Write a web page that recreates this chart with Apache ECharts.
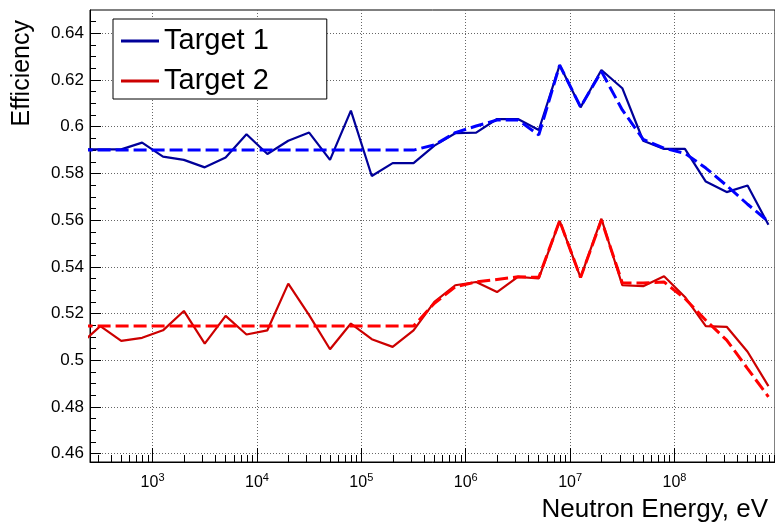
<!DOCTYPE html>
<html>
<head>
<meta charset="utf-8">
<title>Efficiency vs Neutron Energy</title>
<script src="https://cdn.jsdelivr.net/npm/echarts@6/dist/echarts.min.js"></script>
<style>
  html, body { margin: 0; padding: 0; background: #fff; }
  #main { width: 775px; height: 524px; }
</style>
</head>
<body>
<div id="main"></div>
<script>
// neutron energy bin centres, eV
var energies = [200, 316, 501, 794, 1259, 1995, 3162, 5012, 7943,
    12589, 19953, 31623, 50119, 79433, 125893, 199526, 316228, 501187, 794328,
    1.259e6, 1.995e6, 3.162e6, 5.012e6, 7.943e6, 1.259e7, 1.995e7, 3.162e7, 5.012e7, 7.943e7,
    1.259e8, 1.995e8, 3.162e8, 5.012e8, 7.943e8];

var target1 = [0.5903, 0.5903, 0.5903, 0.5932, 0.5872, 0.5858, 0.5826, 0.5868, 0.5968,
    0.5883, 0.5940, 0.5975, 0.5858, 0.6069, 0.5789, 0.5844, 0.5844, 0.5919, 0.5972,
    0.5975, 0.6033, 0.6033, 0.5986, 0.6264, 0.6083, 0.6243, 0.6165, 0.5940, 0.5905,
    0.5905, 0.5765, 0.5720, 0.5748, 0.5580];
var target1Fit = [0.5900, 0.5900, 0.5900, 0.5900, 0.5900, 0.5900, 0.5900, 0.5900, 0.5900,
    0.5900, 0.5900, 0.5900, 0.5900, 0.5900, 0.5900, 0.5900, 0.5900, 0.5922, 0.5975,
    0.6003, 0.6029, 0.6029, 0.5965, 0.6264, 0.6085, 0.6237, 0.6072, 0.5946, 0.5908,
    0.5886, 0.5823, 0.5748, 0.5668, 0.5594];

var target2 = [0.5066, 0.5146, 0.5083, 0.5096, 0.5128, 0.5211, 0.5071, 0.5190, 0.5110,
    0.5128, 0.5328, 0.5193, 0.5047, 0.5157, 0.5090, 0.5057, 0.5128, 0.5250, 0.5321,
    0.5335, 0.5292, 0.5357, 0.5350, 0.5597, 0.5354, 0.5606, 0.5321, 0.5317, 0.5360,
    0.5271, 0.5146, 0.5143, 0.5036, 0.4889];
var target2Fit = [0.5146, 0.5146, 0.5146, 0.5146, 0.5146, 0.5146, 0.5146, 0.5146, 0.5146,
    0.5146, 0.5146, 0.5146, 0.5146, 0.5146, 0.5146, 0.5146, 0.5146, 0.5244, 0.5314,
    0.5335, 0.5346, 0.5357, 0.5355, 0.5597, 0.5354, 0.5600, 0.5331, 0.5331, 0.5335,
    0.5264, 0.5171, 0.5086, 0.4964, 0.4843];

var xTicks = [1e3, 1e4, 1e5, 1e6, 1e7, 1e8];
var yTicks = [0.46, 0.48, 0.5, 0.52, 0.54, 0.56, 0.58, 0.6, 0.62, 0.64];

var xMin = 251.6, xMax = 9.18e8;
var yMin = 0.4564, yMax = 0.65;

// minor ticks: 2..9 in each decade, and every 0.005 on y
var xMinorTicks = [];
[100, 1e3, 1e4, 1e5, 1e6, 1e7, 1e8].forEach(function (d) {
    for (var m = 2; m <= 9; m++) {
        if (d * m > xMin && d * m < xMax) xMinorTicks.push(d * m);
    }
});
var yMinorTicks = [];
yTicks.forEach(function (t) {
    [0.005, 0.01, 0.015].forEach(function (s) {
        var v = +(t + s).toFixed(3);
        if (v < yMax) yMinorTicks.push(v);
    });
});

function pairs(ys) {
    return energies.map(function (e, i) { return [e, ys[i]]; });
}

var font = 'Liberation Sans, Arial, Helvetica, sans-serif';
var dotted = { color: '#666', type: [1, 2], width: 1 };

var chart = echarts.init(document.getElementById('main'));
option = {
    animation: false,
    textStyle: { fontFamily: font },
    grid: {
        left: 90, top: 10, right: -2, bottom: 62,
        show: true, borderColor: '#000', borderWidth: 1
    },
    legend: {
        data: ['Target 1', 'Target 2'],
        orient: 'vertical',
        left: 113, top: 19,
        icon: 'rect',
        itemWidth: 38, itemHeight: 3, itemGap: 6,
        padding: [5, 58, 1, 8],
        backgroundColor: '#fff', borderColor: '#000', borderWidth: 1,
        selectedMode: false,
        textStyle: { fontSize: 29, lineHeight: 34, color: '#000', fontFamily: font }
    },
    xAxis: [
        {
            type: 'log', logBase: 10, min: xMin, max: xMax,
            axisLine: { show: true, lineStyle: { color: '#000' } },
            axisTick: { show: true, inside: true, length: 14, customValues: xTicks, lineStyle: { color: '#000' } },
            axisLabel: {
                customValues: xTicks,
                margin: 10,
                formatter: function (v) {
                    return '{base|10}{sup|' + Math.round(Math.log10(v)) + '}';
                },
                rich: {
                    base: { fontSize: 16, lineHeight: 22, color: '#000', fontFamily: font },
                    sup: { fontSize: 11, verticalAlign: 'top', color: '#000', fontFamily: font }
                }
            },
            splitLine: { show: true, lineStyle: dotted }
        },
        {
            type: 'log', logBase: 10, min: xMin, max: xMax, position: 'bottom',
            axisLine: { show: false },
            axisTick: { show: true, inside: true, length: 7, customValues: xMinorTicks, lineStyle: { color: '#000' } },
            axisLabel: { show: false },
            splitLine: { show: false }
        }
    ],
    yAxis: [
        {
            type: 'value', min: yMin, max: yMax,
            axisLine: { show: true, lineStyle: { color: '#000' } },
            axisTick: { show: true, inside: true, length: 11, customValues: yTicks, lineStyle: { color: '#000' } },
            axisLabel: {
                customValues: yTicks,
                fontSize: 17, color: '#000', margin: 6,
                formatter: function (v) { return String(+(+v).toFixed(2)); }
            },
            splitLine: { show: true, lineStyle: dotted }
        },
        {
            type: 'value', min: yMin, max: yMax, position: 'left',
            axisLine: { show: false },
            axisTick: { show: true, inside: true, length: 6, customValues: yMinorTicks, lineStyle: { color: '#000' } },
            axisLabel: { show: false },
            splitLine: { show: false }
        }
    ],
    series: [
        {
            name: 'Target 1', type: 'line', data: pairs(target1),
            symbol: 'none', lineStyle: { color: '#000099', width: 2.2 }, itemStyle: { color: '#000099' }
        },
        {
            name: 'Target 1 fit', type: 'line', data: pairs(target1Fit),
            symbol: 'none', lineStyle: { color: '#0000ff', width: 3, type: [13, 5] }, itemStyle: { color: '#0000ff' }
        },
        {
            name: 'Target 2', type: 'line', data: pairs(target2),
            symbol: 'none', lineStyle: { color: '#cc0000', width: 2.2 }, itemStyle: { color: '#cc0000' }
        },
        {
            name: 'Target 2 fit', type: 'line', data: pairs(target2Fit),
            symbol: 'none', lineStyle: { color: '#ff0000', width: 3, type: [13, 5] }, itemStyle: { color: '#ff0000' }
        }
    ],
    graphic: [
        {
            type: 'text', x: 22, y: 20, rotation: Math.PI / 2,
            style: { text: 'Efficiency', fontSize: 25, fontFamily: font, align: 'right', verticalAlign: 'middle', fill: '#000' }
        },
        {
            type: 'text', x: 768, y: 510,
            style: { text: 'Neutron Energy, eV', fontSize: 26, fontFamily: font, align: 'right', verticalAlign: 'middle', fill: '#000' }
        }
    ]
};
chart.setOption(option);
</script>
</body>
</html>
